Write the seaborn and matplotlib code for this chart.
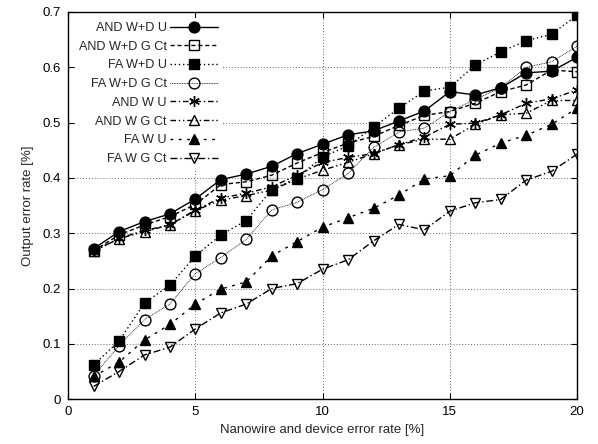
import matplotlib
matplotlib.use("Agg")
import matplotlib.pyplot as plt
import seaborn as sns
import numpy as np

# error rate in percent (x axis)
error_rate = list(range(1, 21))

and_wd_u = [0.272, 0.303, 0.321, 0.335, 0.362, 0.397, 0.407, 0.421, 0.444, 0.461,
            0.478, 0.485, 0.503, 0.521, 0.556, 0.550, 0.563, 0.590, 0.593, 0.618]
and_wd_gct = [0.268, 0.297, 0.315, 0.330, 0.352, 0.388, 0.393, 0.405, 0.427, 0.446,
              0.463, 0.475, 0.495, 0.513, 0.520, 0.535, 0.556, 0.568, 0.595, 0.592]
fa_wd_u = [0.062, 0.105, 0.174, 0.206, 0.259, 0.297, 0.323, 0.379, 0.400, 0.438,
           0.458, 0.492, 0.526, 0.557, 0.564, 0.604, 0.628, 0.648, 0.660, 0.694]
fa_wd_gct = [0.042, 0.097, 0.144, 0.172, 0.227, 0.256, 0.289, 0.342, 0.356, 0.379,
             0.408, 0.455, 0.483, 0.490, 0.520, 0.542, 0.563, 0.600, 0.610, 0.638]
and_w_u = [0.267, 0.291, 0.305, 0.315, 0.342, 0.364, 0.372, 0.384, 0.405, 0.428,
           0.437, 0.444, 0.460, 0.474, 0.497, 0.499, 0.514, 0.535, 0.543, 0.559]
and_w_gct = [0.268, 0.290, 0.303, 0.315, 0.341, 0.360, 0.368, 0.378, 0.398, 0.414,
             0.428, 0.444, 0.460, 0.470, 0.470, 0.497, 0.514, 0.517, 0.540, 0.540]
fa_w_u = [0.041, 0.067, 0.107, 0.135, 0.172, 0.199, 0.212, 0.259, 0.285, 0.311,
          0.328, 0.345, 0.369, 0.398, 0.404, 0.441, 0.463, 0.477, 0.497, 0.526]
fa_w_gct = [0.023, 0.050, 0.080, 0.094, 0.127, 0.156, 0.172, 0.200, 0.209, 0.235,
            0.252, 0.286, 0.316, 0.306, 0.340, 0.355, 0.361, 0.396, 0.412, 0.443]

series_labels = ["AND W+D U", "AND W+D G Ct", "FA W+D U", "FA W+D G Ct",
                 "AND W U", "AND W G Ct", "FA W U", "FA W G Ct"]
series_values = [and_wd_u, and_wd_gct, fa_wd_u, fa_wd_gct,
                 and_w_u, and_w_gct, fa_w_u, fa_w_gct]

x_ticks = [0, 5, 10, 15, 20]
y_ticks = [0, 0.1, 0.2, 0.3, 0.4, 0.5, 0.6, 0.7]
y_tick_labels = ["0", "0.1", "0.2", "0.3", "0.4", "0.5", "0.6", "0.7"]

# gnuplot-like line/marker styles
styles = [
    dict(marker="o", ls="-", mfc="black", lw=1.0),
    dict(marker="s", ls=(0, (3, 2)), mfc="none", lw=1.0),
    dict(marker="s", ls=(0, (1, 2)), mfc="black", lw=1.0),
    dict(marker="o", ls=(0, (1, 1)), mfc="none", lw=0.6),
    dict(marker=(6, 2, 0), ls=(0, (4, 2, 1, 2)), mfc="black", lw=1.0),
    dict(marker="^", ls=(0, (4, 2, 1, 2, 1, 2)), mfc="none", lw=1.0),
    dict(marker="^", ls=(0, (2, 4)), mfc="black", lw=1.0),
    dict(marker="v", ls=(0, (5, 2, 1, 2)), mfc="none", lw=1.0),
]

sns.set_theme(style="ticks")
plt.rcParams["font.family"] = ["Liberation Sans", "DejaVu Sans"]

fig = plt.figure(figsize=(5.98, 4.44), dpi=100)
ax = fig.add_axes([0.114, 0.101, 0.851, 0.872])

for label, vals, st in zip(series_labels, series_values, styles):
    sns.lineplot(x=error_rate, y=vals, ax=ax, color="black", label=label,
                 marker=st["marker"], linestyle=st["ls"], linewidth=st["lw"],
                 markerfacecolor=st["mfc"], markeredgecolor="black",
                 markeredgewidth=1.0, markersize=7.8, zorder=3)

ax.set_xlim(0, 20)
ax.set_ylim(0, 0.7)
ax.set_xticks(x_ticks)
ax.set_xticklabels([str(t) for t in x_ticks])
ax.set_yticks(y_ticks)
ax.set_yticklabels(y_tick_labels)
ax.tick_params(direction="in", top=True, right=True, length=4, width=0.8,
               labelsize=9.5, colors="black", pad=5)
ax.grid(True, color="#666666", linestyle=(0, (1, 2)), linewidth=0.7)
for sp in ax.spines.values():
    sp.set_color("black")
    sp.set_linewidth(1.0)
    sp.set_zorder(6)

ax.set_xlabel("Nanowire and device error rate [%]", fontsize=9.5, labelpad=4)
ax.set_ylabel("Output error rate [%]", fontsize=9.5, labelpad=6)

leg = ax.legend(loc="upper right", bbox_to_anchor=(0.305, 0.987), markerfirst=False,
                frameon=True, facecolor="white", edgecolor="none", framealpha=1.0,
                fancybox=False, fontsize=9.1, handlelength=3.8, handletextpad=0.3,
                labelspacing=0.53, borderpad=0.3, borderaxespad=0.1, numpoints=1)
leg.set_zorder(5)
# right-align the legend texts like gnuplot's key
for col in leg._legend_handle_box.get_children():
    col.align = "right"

fig.savefig("out.png", dpi=100)
